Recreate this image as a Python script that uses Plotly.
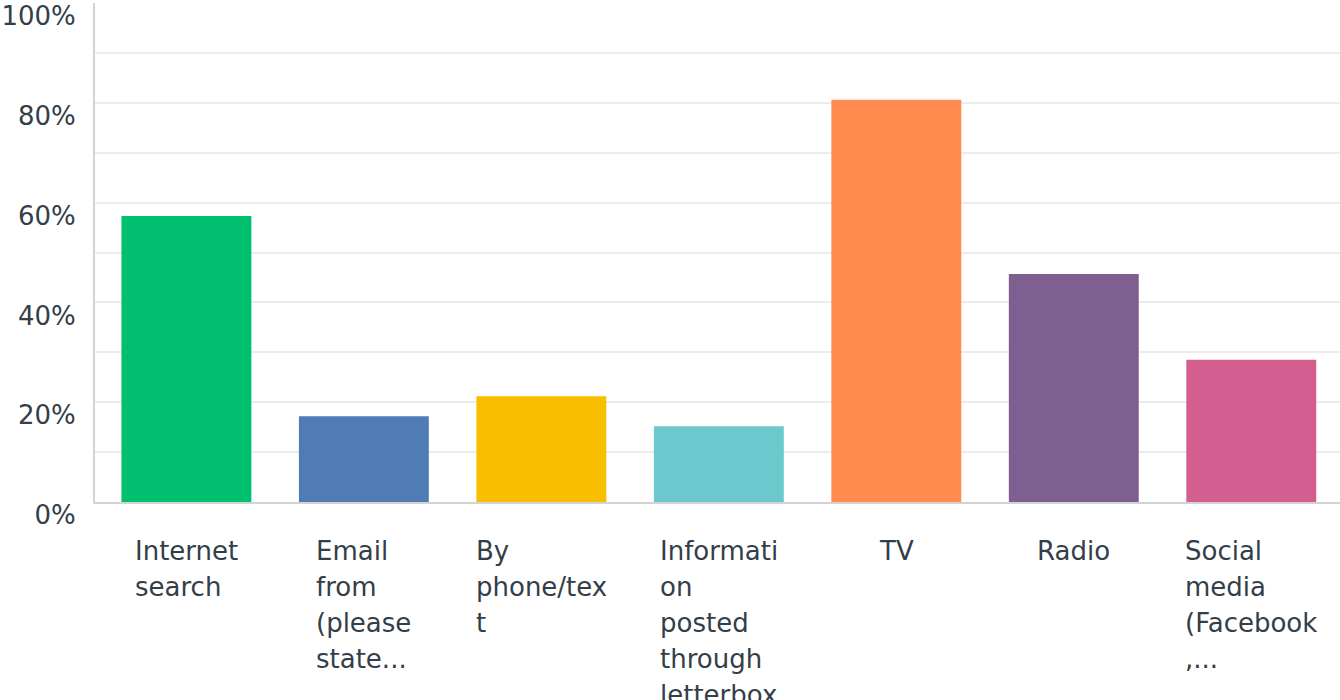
import plotly.graph_objects as go

# Survey responses: share of respondents per information channel
categories = ["Internet search", "Email from (please state...", "By phone/text",
              "Information posted through letterbox", "TV", "Radio",
              "Social media (Facebook,..."]
label_lines = [
    ["Internet", "search"],
    ["Email", "from", "(please", "state..."],
    ["By", "phone/tex", "t"],
    ["Informati", "on", "posted", "through", "letterbox"],
    ["TV"],
    ["Radio"],
    ["Social", "media", "(Facebook", ",..."],
]
values = [57.3, 17.2, 21.2, 15.2, 80.6, 45.7, 28.5]
colors = ["#00bf6f", "#507cb6", "#f9be00", "#6bc8cd", "#ff8b4f", "#7f5f90", "#d25f90"]

grid_vals = [0, 10, 20, 30, 40, 50, 60, 70, 80, 90, 100]
grid_text = ["0%", "", "20%", "", "40%", "", "60%", "", "80%", "", "100%"]

text_color = "#333e48"
font_family = "DejaVu Sans"
label_size = 26
line_height = 36  # px between wrapped label lines

fig = go.Figure(go.Bar(
    x=list(range(len(categories))),
    y=values,
    width=0.732,
    marker=dict(color=colors, line=dict(width=0)),
    hovertext=categories,
))

# Wrapped category labels: block centred under the bar, lines left-aligned
annotations = []
for i, lines in enumerate(label_lines):
    text = "<br>".join(f'<span style="font-size:{label_size}px">{ln}</span>' for ln in lines)
    annotations.append(dict(
        x=i, xref="x", xanchor="center", align="left",
        y=0, yref="paper", yanchor="top", yshift=-32,
        text=text, showarrow=False,
        font=dict(family=font_family, size=line_height / 1.3, color=text_color),
    ))

fig.update_layout(
    width=1340, height=700,
    margin=dict(l=95, r=0, t=3, b=198),
    paper_bgcolor="white", plot_bgcolor="white",
    showlegend=False,
    annotations=annotations,
    xaxis=dict(
        range=[-0.515, 6.5],
        showticklabels=False, showgrid=False, zeroline=False,
        showline=True, linecolor="#d3d3d3", linewidth=2,
    ),
    yaxis=dict(
        range=[0, 100],
        tickvals=grid_vals,
        ticktext=grid_text,
        ticklabelshift=13, ticklabelstandoff=12,
        tickfont=dict(family=font_family, size=26, color=text_color),
        showgrid=True, gridcolor="#ececec", gridwidth=2,
        zeroline=False,
        showline=True, linecolor="#d3d3d3", linewidth=2,
        ticks="",
    ),
)

fig.write_html("out.html")
